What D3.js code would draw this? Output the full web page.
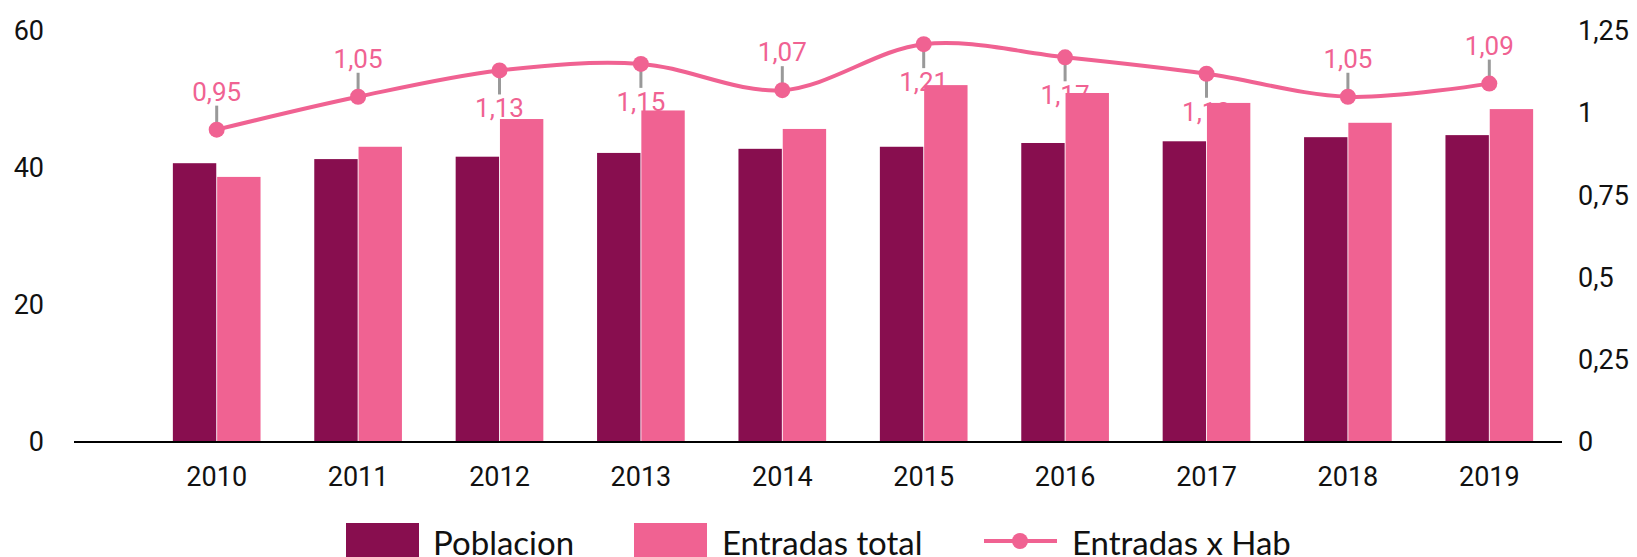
<!DOCTYPE html>
<html lang="es">
<head>
    <meta charset="UTF-8">
    <title>Poblacion y entradas</title>
    <script src="https://d3js.org/d3.v7.min.js"></script>
    <style>
        body { margin: 0; background: #fff; }
        svg { display: block; }
    </style>
</head>
<body>
    <svg id="chart" width="1637" height="557"></svg>
    <script>
        // datos
        const years = ["2010", "2011", "2012", "2013", "2014", "2015", "2016", "2017", "2018", "2019"];
        const poblacion = [40.7, 41.3, 41.65, 42.2, 42.8, 43.1, 43.65, 43.9, 44.5, 44.8];
        const entradasTotal = [38.7, 43.1, 47.15, 48.4, 45.7, 52.1, 50.95, 49.5, 46.6, 48.6];
        const entradasHab = [0.95, 1.05, 1.13, 1.15, 1.07, 1.21, 1.17, 1.12, 1.05, 1.09];
        const leftTicks = [0, 20, 40, 60];
        const rightTicks = [0, 0.25, 0.5, 0.75, 1, 1.25];
        const seriesNames = ["Poblacion", "Entradas total", "Entradas x Hab"];

        const dark = "#880E4F";
        const pink = "#F06292";
        const font = "Roboto, sans-serif";
        const coma = d => String(d).replace(".", ",");

        const svg = d3.select("#chart");
        const plotTop = 31, base = 442;

        const x0 = d3.scaleBand().domain(years).range([146, 1560])
            .paddingInner(0.38).paddingOuter(0.19);
        const x1 = d3.scaleBand().domain([0, 1]).range([0, x0.bandwidth()]).paddingInner(0.02);
        const yL = d3.scaleLinear().domain([0, 60]).range([base, plotTop]);
        const yR = d3.scaleLinear().domain([0, 1.25]).range([base, plotTop]);

        // ejes
        const left = svg.append("g").attr("transform", "translate(74,0)")
            .call(d3.axisLeft(yL).tickValues(leftTicks).tickSize(0).tickPadding(30));
        const right = svg.append("g").attr("transform", "translate(1562,0)")
            .call(d3.axisRight(yR).tickValues(rightTicks).tickSize(0).tickPadding(16).tickFormat(coma));
        const bottom = svg.append("g").attr("transform", `translate(0,${base})`)
            .call(d3.axisBottom(x0).tickSize(0).tickPadding(25));
        [left, right, bottom].forEach(g => {
            g.select(".domain").remove();
            g.selectAll("text").attr("font-family", font).attr("font-size", 27).attr("fill", "#111");
        });

        const cx = i => x0(years[i]) + x0.bandwidth() / 2;

        // etiquetas del valor (detras de las barras)
        const lab = svg.append("g");
        entradasHab.forEach((v, i) => {
            const py = yR(v);
            const below = py - 46 < plotTop + 6;
            lab.append("line")
                .attr("x1", cx(i)).attr("x2", cx(i))
                .attr("y1", py).attr("y2", below ? py + 24 : py - 24)
                .attr("stroke", "#999").attr("stroke-width", 3);
            lab.append("text")
                .attr("x", cx(i)).attr("y", below ? py + 47 : py - 29)
                .attr("text-anchor", "middle")
                .attr("font-family", font).attr("font-size", 26)
                .attr("fill", pink)
                .text(coma(v));
        });

        // barras
        const groups = svg.append("g").selectAll("g")
            .data(years).join("g")
            .attr("transform", d => `translate(${x0(d)},0)`);
        groups.selectAll("rect")
            .data((d, i) => [poblacion[i], entradasTotal[i]])
            .join("rect")
            .attr("x", (d, j) => x1(j))
            .attr("width", x1.bandwidth())
            .attr("y", d => yL(d))
            .attr("height", d => base - yL(d))
            .attr("fill", (d, j) => j === 0 ? dark : pink);

        // linea base
        svg.append("line")
            .attr("x1", 74).attr("x2", 1562)
            .attr("y1", base).attr("y2", base)
            .attr("stroke", "#000").attr("stroke-width", 2);

        // linea entradas x hab
        const line = d3.line()
            .x((d, i) => cx(i))
            .y(d => yR(d))
            .curve(d3.curveCatmullRom);
        svg.append("path")
            .datum(entradasHab)
            .attr("d", line)
            .attr("fill", "none")
            .attr("stroke", pink)
            .attr("stroke-width", 4);
        svg.append("g").selectAll("circle")
            .data(entradasHab).join("circle")
            .attr("cx", (d, i) => cx(i))
            .attr("cy", d => yR(d))
            .attr("r", 8)
            .attr("fill", pink);

        // leyenda
        const leg = svg.append("g").attr("font-family", "Lato, sans-serif").attr("font-size", 33).attr("fill", "#111");
        const legItems = [
            { x: 346, tx: 433, color: dark, type: "rect" },
            { x: 634, tx: 722, color: pink, type: "rect" },
            { x: 984, tx: 1072, color: pink, type: "line" }
        ];
        legItems.forEach((it, i) => {
            if (it.type === "rect") {
                leg.append("rect").attr("x", it.x).attr("y", 523).attr("width", 73).attr("height", 36).attr("fill", it.color);
            } else {
                leg.append("line").attr("x1", it.x).attr("x2", it.x + 73).attr("y1", 541).attr("y2", 541)
                    .attr("stroke", it.color).attr("stroke-width", 4);
                leg.append("circle").attr("cx", it.x + 36).attr("cy", 541).attr("r", 8).attr("fill", it.color);
            }
            leg.append("text").attr("x", it.tx).attr("y", 555).text(seriesNames[i]);
        });
    </script>
</body>
</html>
